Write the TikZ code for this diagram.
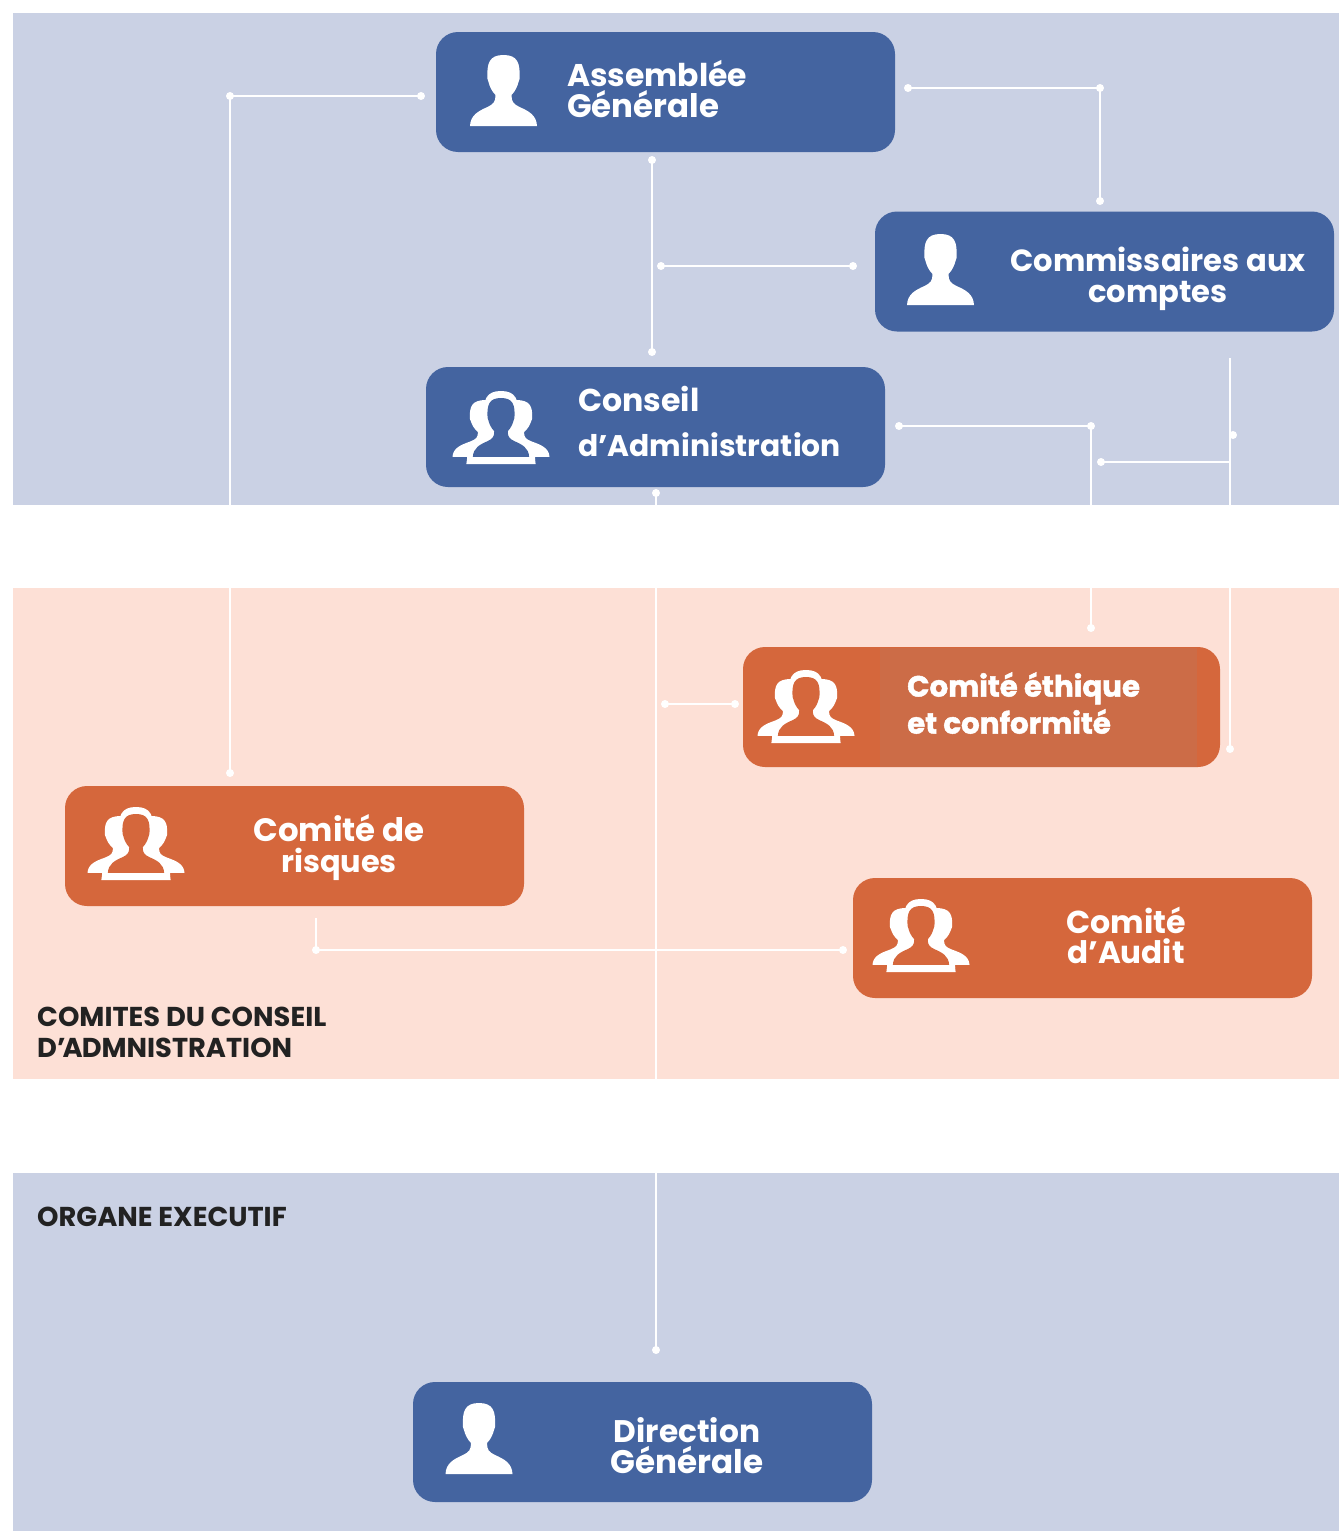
\documentclass[tikz,border=0pt]{standalone}
\usepackage{fontspec}
\setmainfont{Poppins}
\newfontfamily\heavyfont[FakeBold=1.6]{Poppins Bold}
\definecolor{panelblue}{HTML}{CAD1E4}
\definecolor{panelpink}{HTML}{FDE0D6}
\definecolor{boxblue}{HTML}{4464A0}
\definecolor{boxorange}{HTML}{D5673C}
\definecolor{boxlight}{HTML}{CC6C47}
\definecolor{inktext}{HTML}{222222}
\newcommand{\personshape}{(-33.5,71) .. controls (-33,60) and (-25,56) .. (-16,52) .. controls (-10,49) and (-8,47) .. (-8,40) .. controls (-12,36) and (-14,31) .. (-15,27) -- (-16,24) .. controls (-17,8) and (-14,0) .. (0,0) .. controls (14,0) and (17,8) .. (16,24) -- (15,27) .. controls (14,31) and (12,36) .. (8,40) .. controls (8,47) and (10,49) .. (16,52) .. controls (25,56) and (33,60) .. (33.5,71) -- cycle}
\newcommand{\sz}[1]{\fontsize{#1}{30.5}\selectfont}
\tikzset{
  x=1pt,y=-1pt,
  panel/.style={anchor=north west,inner sep=0pt,outer sep=0pt,minimum height=#1},
  card/.style={rectangle,rounded corners=22pt,minimum width=459pt,minimum height=120pt,inner sep=0pt},
  bluecard/.style={card,fill=boxblue},
  orangecard/.style={card,fill=boxorange},
  cardtext/.style={text=white,font=\fontsize{31.7}{30.5}\selectfont\bfseries,inner sep=0pt,align=center},
  lefttext/.style={cardtext,align=left,anchor=west},
  heading/.style={text=inktext,font=\fontsize{27.3}{31}\selectfont\bfseries,inner sep=0pt,align=left,anchor=west},
  wire/.style={draw=white,line width=2.8pt},
  person/.pic={\fill[white] \personshape;},
  people/.pic={
    \begin{scope}[shift={(-15,8)},xscale=1,yscale=.8]\fill[white] \personshape;\end{scope}
    \begin{scope}[shift={(15,8)},xscale=1,yscale=.8]\fill[white] \personshape;\end{scope}
    \fill[white,rounded corners=3pt] (-34,60) rectangle (34,71.5);
    \fill[white] (-22,20) rectangle (22,60);
    \draw[white,line width=2pt,fill=white] \personshape;
    \begin{scope}[shift={(0,6)},xscale=.84,yscale=.83]\fill[#1] \personshape;\end{scope}
  },
}
\begin{document}
\begin{tikzpicture}
\useasboundingbox (0,0) rectangle (1339,1531);
\node[panel=492pt,fill=panelblue,minimum width=1326pt] (top) at (13,13) {};
\node[panel=491pt,fill=panelpink,minimum width=1326pt] (mid) at (13,588) {};
\node[panel=358pt,fill=panelblue,minimum width=1326pt] (low) at (13,1173) {};

\node[bluecard] (ag) at (665.5,92) {};
\node[bluecard] (cac) at (1104.5,271.5) {};
\node[bluecard] (ca) at (655.5,427) {};
\node[orangecard,minimum width=477pt] (eth) at (981.5,707) {};
\fill[boxlight] (880,648) rectangle (1197,766.5);
\node[orangecard] (ris) at (294.5,846) {};
\node[orangecard] (aud) at (1082.5,938) {};
\node[bluecard] (dg) at (642.5,1442) {};

\pic at (503.5,55) {person};
\pic at (940.5,234) {person};
\pic at (479,1403) {person};
\pic at (501,392) {people=boxblue};
\pic at (806,671) {people=boxorange};
\pic at (136,808) {people=boxorange};
\pic at (921,900) {people=boxorange};

\node[lefttext] (tag) at (567,89) {\sz{31.4}Assemblée\\\sz{32.4}Générale};
\node[cardtext,font=\fontsize{30.6}{31}\selectfont\bfseries] (tcac) at (1158,279) {Commissaires aux\\comptes};
\node[lefttext,font=\fontsize{29.8}{45}\selectfont\bfseries] (tca) at (578,421) {\fontsize{31.6}{45}\selectfont Conseil\\\fontsize{29.8}{45}\selectfont d’Administration};
\node[lefttext,font=\fontsize{29.3}{37}\selectfont\heavyfont] (teth) at (907,703) {Comité éthique\\et conformité};
\node[cardtext,font=\fontsize{32.4}{31}\selectfont\bfseries] (tris) at (339,847.5) {Comité de\\\sz{30.4}risques};
\node[cardtext] (taud) at (1126,935.5) {Comité\\\sz{31}d’Audit};
\node[cardtext] (tdg) at (687,1445.5) {\sz{31.2}Direction\\\sz{32.6}Générale};

\node[heading] (h1) at (37,1032) {COMITES DU CONSEIL\\D’\kern-3pt A\kern-1pt DMNISTRATION};
\node[heading] (h2) at (37,1217) {ORGANE EXECUTIF};

\coordinate (a1) at (421,96);
\coordinate (a2) at (230,96);
\coordinate (a3) at (230,773);
\coordinate (b1) at (908,88);
\coordinate (b2) at (1100,88);
\coordinate (b3) at (1100,201);
\coordinate (c1) at (652,160);
\coordinate (c2) at (652,352);
\coordinate (c3) at (661,266);
\coordinate (c4) at (853,266);
\coordinate (d1) at (899,426);
\coordinate (d2) at (1091,426);
\coordinate (d3) at (1091,628);
\coordinate (e1) at (1230,358);
\coordinate (e2) at (1230,749);
\coordinate (e3) at (1101,462);
\coordinate (e4) at (1230,462);
\coordinate (e5) at (1233,435);
\coordinate (f1) at (656,493);
\coordinate (f2) at (656,1350);
\coordinate (g1) at (665,704);
\coordinate (g2) at (735,704);
\coordinate (k1) at (316,918);
\coordinate (k2) at (316,950);
\coordinate (k3) at (843,950);

\draw[wire] (a1) -- (a2) -- (a3);
\draw[wire] (b1) -- (b2) -- (b3);
\draw[wire] (c1) -- (c2);
\draw[wire] (c3) -- (c4);
\draw[wire] (d1) -- (d2) -- (d3);
\draw[wire] (e1) -- (e2);
\draw[wire] (e3) -- (e4);
\draw[wire] (f1) -- (f2);
\draw[wire] (g1) -- (g2);
\draw[wire] (k1) -- (k2) -- (k3);
\foreach \p in {a1,a2,a3,b1,b2,b3,c1,c2,c3,c4,d1,d2,d3,e2,e3,e5,f1,f2,g1,g2,k2,k3}
  \fill[white] (\p) circle (4);
\end{tikzpicture}
\end{document}
